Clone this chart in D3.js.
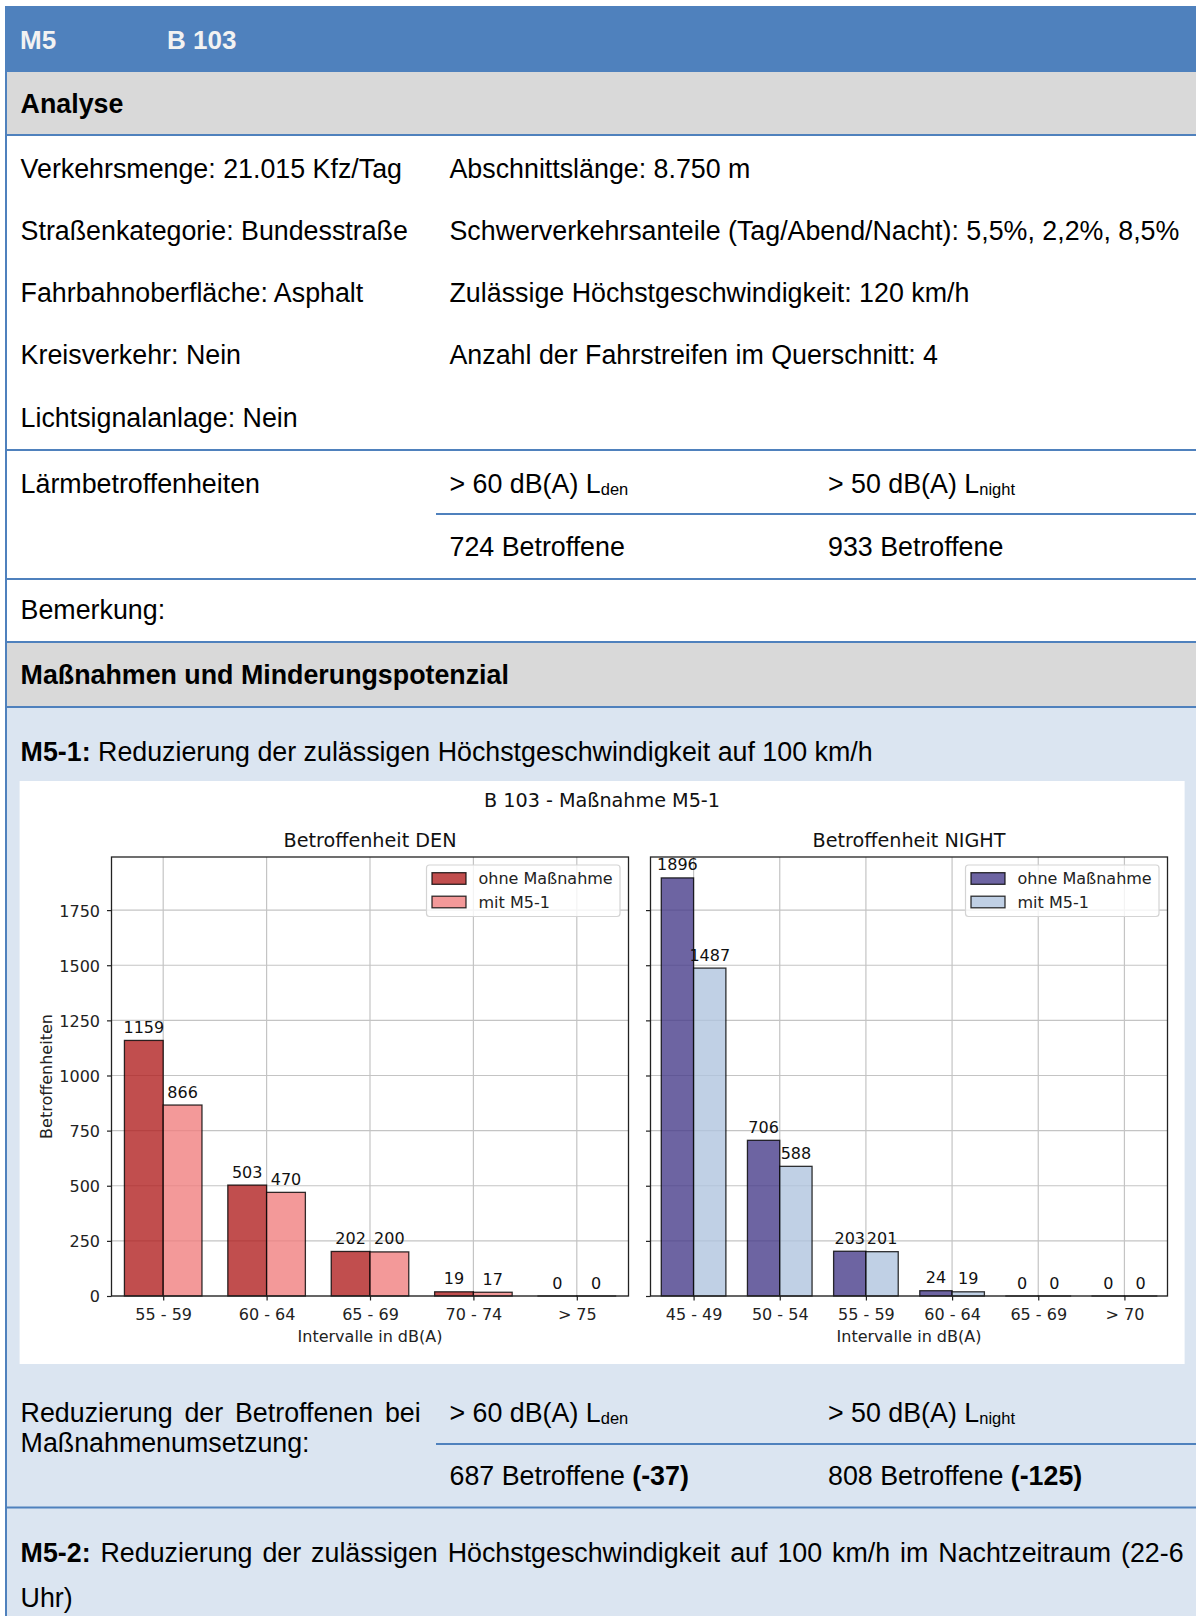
<!DOCTYPE html>
<html><head><meta charset="utf-8">
<script src="https://cdn.jsdelivr.net/npm/d3@7"></script>
<style>body{margin:0;background:#fff}svg{display:block}</style>
</head><body>
<svg id="c" width="1196" height="1616"></svg>
<script>
// ---------- data ----------
const denCategories = ["55 - 59", "60 - 64", "65 - 69", "70 - 74", "> 75"];
const denOhne = [1159, 503, 202, 19, 0];
const denMit = [866, 470, 200, 17, 0];
const nightCategories = ["45 - 49", "50 - 54", "55 - 59", "60 - 64", "65 - 69", "> 70"];
const nightOhne = [1896, 706, 203, 24, 0, 0];
const nightMit = [1487, 588, 201, 19, 0, 0];
const yTicks = [0, 250, 500, 750, 1000, 1250, 1500, 1750];
const seriesLabels = ["ohne Maßnahme", "mit M5-1"];

// ---------- page ----------
const svg = d3.select('#c');
const W = 1196;
const BLUE = '#4f81bd', GRAY = '#d9d9d9', LIGHT = '#dbe5f1';
const PF = "'Liberation Sans', Arial, sans-serif";
const CF = "'DejaVu Sans', sans-serif";
const FS = 26.8;

svg.append('rect').attr('x', 5).attr('y', 6).attr('width', W - 5).attr('height', 66).attr('fill', BLUE);
svg.append('rect').attr('x', 6).attr('y', 72).attr('width', W - 6).attr('height', 63).attr('fill', GRAY);
svg.append('rect').attr('x', 6).attr('y', 642).attr('width', W - 6).attr('height', 65).attr('fill', GRAY);
svg.append('rect').attr('x', 6).attr('y', 707).attr('width', W - 6).attr('height', 1616 - 707).attr('fill', LIGHT);
svg.append('rect').attr('x', 5).attr('y', 6).attr('width', 2).attr('height', 1610).attr('fill', BLUE);
function hline(y, x0) {
  svg.append('rect').attr('x', x0).attr('y', y - 1).attr('width', W - x0).attr('height', 2).attr('fill', BLUE);
}
[135, 450, 579, 642, 707, 1507.5].forEach(y => hline(y, 5));
[514, 1444].forEach(y => hline(y, 436));

function rich(x, y, parts, opt = {}) {
  const t = svg.append('text').attr('x', x).attr('y', y)
    .attr('font-family', PF).attr('font-size', opt.size || FS).attr('fill', opt.fill || '#000');
  parts.forEach(p => {
    if (typeof p === 'string') p = { t: p };
    const ts = t.append('tspan').text(p.t);
    if (p.bold || opt.bold) ts.attr('font-weight', 'bold');
    if (p.sub) ts.attr('font-size', 16.5).attr('dy', 2.5);
  });
  return t;
}
function justified(x0, x1, y, words) {
  const els = words.map(w => svg.append('text').attr('y', y).attr('font-family', PF)
    .attr('font-size', FS).attr('font-weight', w.bold ? 'bold' : null).text(w.t));
  const widths = els.map(e => e.node().getComputedTextLength());
  const gap = (x1 - x0 - d3.sum(widths)) / (words.length - 1);
  let cx = x0;
  els.forEach((e, i) => { e.attr('x', cx); cx += widths[i] + gap; });
}

rich(20, 49, ['M5'], { bold: true, size: 26, fill: '#f2f2f2' });
rich(167, 49, ['B 103'], { bold: true, size: 26, fill: '#f2f2f2' });
rich(20.6, 113.3, ['Analyse'], { bold: true });

const col1 = ['Verkehrsmenge: 21.015 Kfz/Tag', 'Straßenkategorie: Bundesstraße', 'Fahrbahnoberfläche: Asphalt', 'Kreisverkehr: Nein', 'Lichtsignalanlage: Nein'];
const col2 = ['Abschnittslänge: 8.750 m', 'Schwerverkehrsanteile (Tag/Abend/Nacht): 5,5%, 2,2%, 8,5%', 'Zulässige Höchstgeschwindigkeit: 120 km/h', 'Anzahl der Fahrstreifen im Querschnitt: 4'];
const rowY = [177.7, 240, 302.3, 364.3, 426.7];
col1.forEach((s, i) => rich(20.6, rowY[i], [s]));
col2.forEach((s, i) => rich(449.5, rowY[i], [s]));

rich(20.6, 492.5, ['Lärmbetroffenheiten']);
rich(449.5, 492.5, ['> 60 dB(A) L', { t: 'den', sub: true }]);
rich(828, 492.5, ['> 50 dB(A) L', { t: 'night', sub: true }]);
rich(449.5, 556, ['724 Betroffene']);
rich(828, 556, ['933 Betroffene']);
rich(20.6, 619, ['Bemerkung:']);
rich(20.6, 684, ['Maßnahmen und Minderungspotenzial'], { bold: true });
rich(20.6, 760.5, [{ t: 'M5-1:', bold: true }, ' Reduzierung der zulässigen Höchstgeschwindigkeit auf 100 km/h']);

justified(20.6, 420.7, 1421.7, 'Reduzierung der Betroffenen bei'.split(' ').map(t => ({ t })));
rich(20.6, 1451.7, ['Maßnahmenumsetzung:']);
rich(449.5, 1421.7, ['> 60 dB(A) L', { t: 'den', sub: true }]);
rich(828, 1421.7, ['> 50 dB(A) L', { t: 'night', sub: true }]);
rich(449.5, 1485, ['687 Betroffene ', { t: '(-37)', bold: true }]);
rich(828, 1485, ['808 Betroffene ', { t: '(-125)', bold: true }]);
justified(20.6, 1183.6, 1561.7, [{ t: 'M5-2:', bold: true }].concat(
  'Reduzierung der zulässigen Höchstgeschwindigkeit auf 100 km/h im Nachtzeitraum (22-6'.split(' ').map(t => ({ t }))));
rich(20.6, 1606.7, ['Uhr)']);

// ---------- chart ----------
svg.append('rect').attr('x', 19.6).attr('y', 781).attr('width', 1165).attr('height', 583).attr('fill', '#fff');
svg.append('text').attr('x', 602).attr('y', 806.5).attr('text-anchor', 'middle')
  .attr('font-family', CF).attr('font-size', 19.2).attr('fill', '#111').text('B 103 - Maßnahme M5-1');

const yTop = 857, yBot = 1296;
const yMax = d3.max(nightOhne.concat(denOhne)) * 1.05;
const y = d3.scaleLinear().domain([0, yMax]).range([yBot, yTop]);
const BW = 0.375;

function panel(cfg) {
  const n = cfg.cats.length;
  const x = d3.scaleLinear().domain([-0.5, n - 0.5]).range([cfg.x0, cfg.x1]);
  const g = svg.append('g');
  // grid
  g.selectAll('.gy').data(yTicks).join('line')
    .attr('x1', cfg.x0).attr('x2', cfg.x1).attr('y1', d => y(d)).attr('y2', d => y(d))
    .attr('stroke', '#c4c4c4').attr('stroke-width', 1.2);
  g.selectAll('.gx').data(d3.range(n)).join('line')
    .attr('x1', d => x(d)).attr('x2', d => x(d)).attr('y1', yTop).attr('y2', yBot)
    .attr('stroke', '#c4c4c4').attr('stroke-width', 1.2);
  // bars
  const series = [
    { vals: cfg.ohne, off: -BW, color: cfg.colors[0] },
    { vals: cfg.mit, off: 0, color: cfg.colors[1] }
  ];
  series.forEach(s => {
    g.selectAll(null).data(s.vals).join('rect')
      .attr('x', (d, i) => x(i + s.off)).attr('width', x(BW) - x(0))
      .attr('y', d => y(d)).attr('height', d => Math.max(y(0) - y(d), 0.01))
      .attr('fill', s.color).attr('fill-opacity', 0.8)
      .attr('stroke', '#000').attr('stroke-opacity', 0.8).attr('stroke-width', 1.3);
    g.selectAll(null).data(s.vals).join('text')
      .attr('x', (d, i) => x(i + s.off + BW / 2)).attr('y', d => y(d) - 7.5)
      .attr('text-anchor', 'middle').attr('font-family', CF).attr('font-size', 16).attr('fill', '#111')
      .text(d => d);
  });
  // spines
  g.append('rect').attr('x', cfg.x0).attr('y', yTop).attr('width', cfg.x1 - cfg.x0).attr('height', yBot - yTop)
    .attr('fill', 'none').attr('stroke', '#222').attr('stroke-width', 1.3);
  // y axis
  const ya = g.append('g').attr('transform', `translate(${cfg.x0},0)`)
    .call(d3.axisLeft(y).tickValues(yTicks).tickFormat(d3.format('d')).tickSize(4.5).tickPadding(7));
  ya.select('.domain').remove();
  ya.selectAll('line').attr('stroke', '#222').attr('stroke-width', 1.2);
  ya.selectAll('text').attr('font-family', CF).attr('font-size', 16).attr('fill', '#222').attr('dy', '0.37em');
  if (!cfg.yLabels) ya.selectAll('text').remove();
  // x axis
  const xa = g.append('g').attr('transform', `translate(0,${yBot})`)
    .call(d3.axisBottom(x).tickValues(d3.range(n)).tickFormat(i => cfg.cats[i]).tickSize(4.5));
  xa.select('.domain').remove();
  xa.selectAll('line').attr('stroke', '#222').attr('stroke-width', 1.2);
  xa.selectAll('text').attr('font-family', CF).attr('font-size', 16).attr('fill', '#222')
    .attr('y', 24).attr('dy', null);
  // titles
  const cx = (cfg.x0 + cfg.x1) / 2;
  g.append('text').attr('x', cx).attr('y', 846.7).attr('text-anchor', 'middle')
    .attr('font-family', CF).attr('font-size', 19.2).attr('fill', '#111').text(cfg.title);
  g.append('text').attr('x', cx).attr('y', 1341.7).attr('text-anchor', 'middle')
    .attr('font-family', CF).attr('font-size', 16).attr('fill', '#222').text('Intervalle in dB(A)');
  if (cfg.yLabels) {
    g.append('text').attr('transform', `translate(52,${(yTop + yBot) / 2}) rotate(-90)`)
      .attr('text-anchor', 'middle').attr('font-family', CF).attr('font-size', 16).attr('fill', '#222')
      .text('Betroffenheiten');
  }
  // legend
  const lw = 193.5, lx = cfg.x1 - 8.5 - lw, ly = 865;
  g.append('rect').attr('x', lx).attr('y', ly).attr('width', lw).attr('height', 51.5).attr('rx', 3)
    .attr('fill', '#fff').attr('fill-opacity', 0.8).attr('stroke', '#d4d4d4').attr('stroke-width', 1.2);
  seriesLabels.forEach((lab, i) => {
    const py = 872.7 + i * 23.5;
    g.append('rect').attr('x', lx + 5.5).attr('y', py).attr('width', 34).attr('height', 11.6)
      .attr('fill', cfg.colors[i]).attr('fill-opacity', 0.8)
      .attr('stroke', '#000').attr('stroke-opacity', 0.8).attr('stroke-width', 1.3);
    g.append('text').attr('x', lx + 52).attr('y', py + 11.6).attr('font-family', CF).attr('font-size', 16)
      .attr('fill', '#222').text(lab);
  });
}

panel({ cats: denCategories, ohne: denOhne, mit: denMit, x0: 111.5, x1: 628.5,
  title: 'Betroffenheit DEN', yLabels: true, colors: ['#b22222', '#f08080'] });
panel({ cats: nightCategories, ohne: nightOhne, mit: nightMit, x0: 650.5, x1: 1167.5,
  title: 'Betroffenheit NIGHT', yLabels: false, colors: ['#483d8b', '#b0c4de'] });
</script>
</body></html>
